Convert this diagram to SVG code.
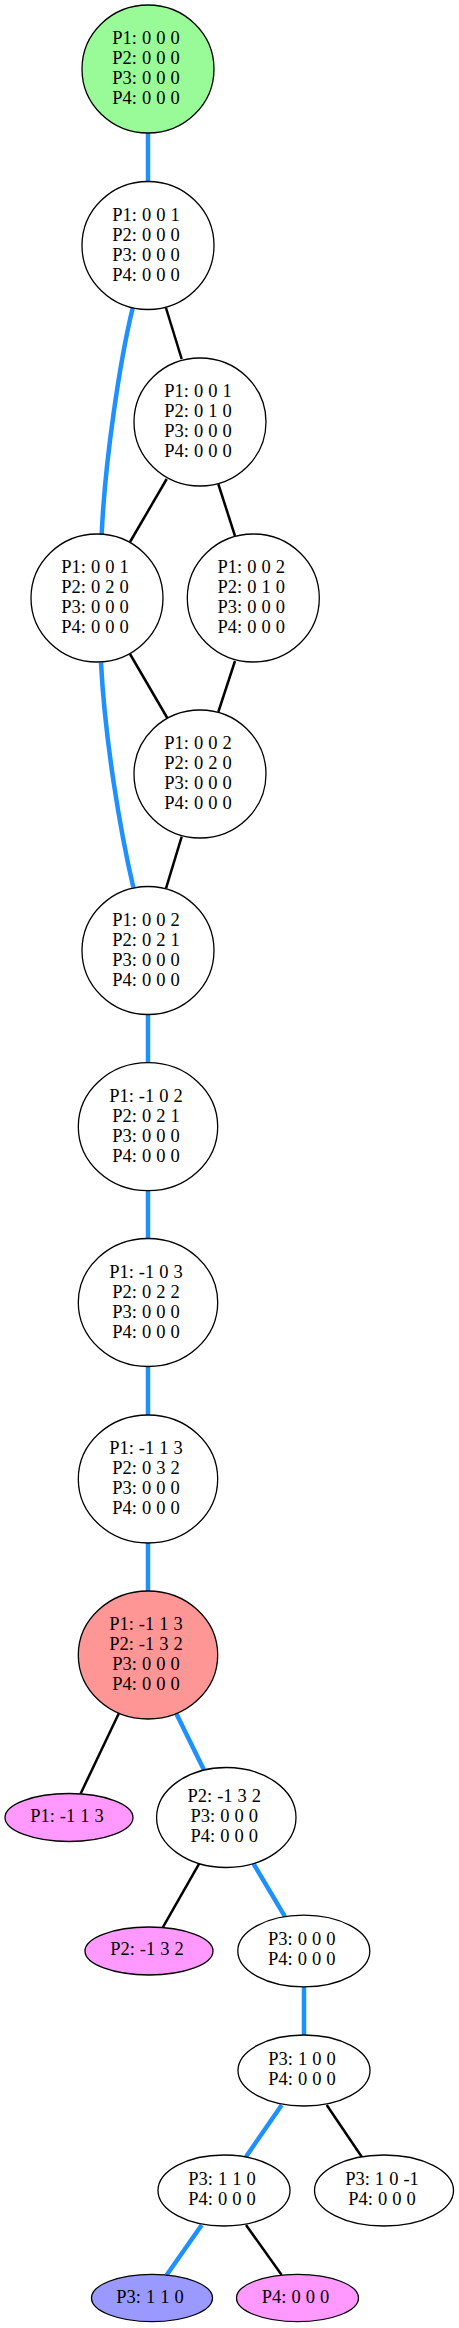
<svg xmlns="http://www.w3.org/2000/svg" width="459" height="2328" viewBox="0 0 459 2328">
<style>
.n ellipse{stroke:#000;stroke-width:1.3;fill:#fff}
.n text{font-family:"Liberation Serif","Times New Roman",serif;font-size:18.5px;word-spacing:0.4px;fill:#000;text-anchor:middle}
.b{stroke:#1e90ff;stroke-width:4.5;fill:none}
.k{stroke:#000;stroke-width:2.5;fill:none}
.green{fill:#98fb98 !important}
.red{fill:#ff9696 !important}
.pink{fill:#ff99ff !important}
.blue{fill:#9999ff !important}
</style>
<rect width="459" height="2328" fill="#fff"/>
<g id="edges">
<path class="b" d="M148,133 L148,182"/>
<path class="k" d="M166,308 L181.7,359"/>
<path class="b" d="M132.7,308 C120,360 105,460 101.7,534"/>
<path class="k" d="M166.7,479 L130,542"/>
<path class="k" d="M218.3,484 L235,536"/>
<path class="k" d="M130,654 L167.3,718"/>
<path class="k" d="M235,661 L218.3,712"/>
<path class="b" d="M101,662.7 C105,740 120,830 133.3,887.3"/>
<path class="k" d="M181.7,836.7 L166,888.3"/>
<path class="b" d="M148,1014 L148,1063"/>
<path class="b" d="M148,1190 L148,1238"/>
<path class="b" d="M148,1366 L148,1415"/>
<path class="b" d="M148,1543 L148,1591"/>
<path class="k" d="M119,1713 L80.7,1793.5"/>
<path class="b" d="M176,1713 L204,1770"/>
<path class="k" d="M199.3,1863.3 L162.7,1927.7"/>
<path class="b" d="M253.3,1863.3 L285,1916.7"/>
<path class="b" d="M304,1986.5 L304,2035"/>
<path class="b" d="M281.7,2105 L246,2156.7"/>
<path class="k" d="M326.7,2105 L361.7,2156.7"/>
<path class="b" d="M201.7,2225 L166.7,2275"/>
<path class="k" d="M246,2225 L281.7,2275"/>
</g>
<g id="n1" class="n"><ellipse class="green" cx="148" cy="69" rx="66" ry="64"/><text x="146" y="44">P1: 0 0 0</text><text x="146" y="64">P2: 0 0 0</text><text x="146" y="84">P3: 0 0 0</text><text x="146" y="104">P4: 0 0 0</text></g>
<g id="n2" class="n"><ellipse cx="148" cy="245.5" rx="66" ry="64"/><text x="146" y="220.5">P1: 0 0 1</text><text x="146" y="240.5">P2: 0 0 0</text><text x="146" y="260.5">P3: 0 0 0</text><text x="146" y="280.5">P4: 0 0 0</text></g>
<g id="n3" class="n"><ellipse cx="200" cy="422" rx="66" ry="64"/><text x="198" y="397">P1: 0 0 1</text><text x="198" y="417">P2: 0 1 0</text><text x="198" y="437">P3: 0 0 0</text><text x="198" y="457">P4: 0 0 0</text></g>
<g id="n4" class="n"><ellipse cx="97" cy="598" rx="66" ry="64"/><text x="95" y="573">P1: 0 0 1</text><text x="95" y="593">P2: 0 2 0</text><text x="95" y="613">P3: 0 0 0</text><text x="95" y="633">P4: 0 0 0</text></g>
<g id="n5" class="n"><ellipse cx="253.3" cy="598" rx="66" ry="64"/><text x="251.3" y="573">P1: 0 0 2</text><text x="251.3" y="593">P2: 0 1 0</text><text x="251.3" y="613">P3: 0 0 0</text><text x="251.3" y="633">P4: 0 0 0</text></g>
<g id="n6" class="n"><ellipse cx="200" cy="774" rx="66" ry="64"/><text x="198" y="749">P1: 0 0 2</text><text x="198" y="769">P2: 0 2 0</text><text x="198" y="789">P3: 0 0 0</text><text x="198" y="809">P4: 0 0 0</text></g>
<g id="n7" class="n"><ellipse cx="148" cy="950.5" rx="66" ry="64"/><text x="146" y="925.5">P1: 0 0 2</text><text x="146" y="945.5">P2: 0 2 1</text><text x="146" y="965.5">P3: 0 0 0</text><text x="146" y="985.5">P4: 0 0 0</text></g>
<g id="n8" class="n"><ellipse cx="148" cy="1126.7" rx="69.7" ry="64"/><text x="146" y="1101.7">P1: -1 0 2</text><text x="146" y="1121.7">P2: 0 2 1</text><text x="146" y="1141.7">P3: 0 0 0</text><text x="146" y="1161.7">P4: 0 0 0</text></g>
<g id="n9" class="n"><ellipse cx="148" cy="1302.5" rx="69.7" ry="64"/><text x="146" y="1277.5">P1: -1 0 3</text><text x="146" y="1297.5">P2: 0 2 2</text><text x="146" y="1317.5">P3: 0 0 0</text><text x="146" y="1337.5">P4: 0 0 0</text></g>
<g id="n10" class="n"><ellipse cx="148" cy="1479" rx="69.7" ry="64"/><text x="146" y="1454">P1: -1 1 3</text><text x="146" y="1474">P2: 0 3 2</text><text x="146" y="1494">P3: 0 0 0</text><text x="146" y="1514">P4: 0 0 0</text></g>
<g id="n11" class="n"><ellipse class="red" cx="148" cy="1655" rx="69.7" ry="64"/><text x="146" y="1630">P1: -1 1 3</text><text x="146" y="1650">P2: -1 3 2</text><text x="146" y="1670">P3: 0 0 0</text><text x="146" y="1690">P4: 0 0 0</text></g>
<g id="n12" class="n"><ellipse class="pink" cx="69" cy="1817.5" rx="64" ry="24"/><text x="67" y="1821.7">P1: -1 1 3</text></g>
<g id="n13" class="n"><ellipse cx="226.3" cy="1817.5" rx="69.7" ry="50"/><text x="224.3" y="1801.7">P2: -1 3 2</text><text x="224.3" y="1821.7">P3: 0 0 0</text><text x="224.3" y="1841.7">P4: 0 0 0</text></g>
<g id="n14" class="n"><ellipse class="pink" cx="149" cy="1951" rx="64" ry="24"/><text x="147" y="1955.2">P2: -1 3 2</text></g>
<g id="n15" class="n"><ellipse cx="303.8" cy="1951" rx="66" ry="35.8"/><text x="301.8" y="1945">P3: 0 0 0</text><text x="301.8" y="1965">P4: 0 0 0</text></g>
<g id="n16" class="n"><ellipse cx="304" cy="2070.5" rx="66" ry="35.5"/><text x="302" y="2065">P3: 1 0 0</text><text x="302" y="2085">P4: 0 0 0</text></g>
<g id="n17" class="n"><ellipse cx="224" cy="2190.5" rx="66" ry="35.5"/><text x="222" y="2185">P3: 1 1 0</text><text x="222" y="2205">P4: 0 0 0</text></g>
<g id="n18" class="n"><ellipse cx="384" cy="2190.5" rx="69.5" ry="35.5"/><text x="382" y="2185">P3: 1 0 -1</text><text x="382" y="2205">P4: 0 0 0</text></g>
<g id="n19" class="n"><ellipse class="blue" cx="152" cy="2298" rx="60.5" ry="23.7"/><text x="150" y="2302.7">P3: 1 1 0</text></g>
<g id="n20" class="n"><ellipse class="pink" cx="297.5" cy="2298" rx="61" ry="23.7"/><text x="295.5" y="2302.7">P4: 0 0 0</text></g>
</svg>
